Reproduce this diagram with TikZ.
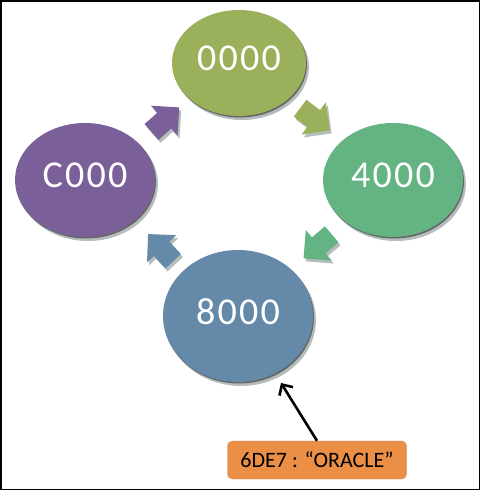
\documentclass[tikz,border=0pt]{standalone}
\usepackage{fontspec}
\setmainfont{Carlito}
\newfontfamily\digitfont[LetterSpace=6]{Carlito}
\usetikzlibrary{shapes.geometric,shadows,arrows.meta}

\definecolor{ringolive}{HTML}{9BB05A}
\definecolor{ringgreen}{HTML}{63B383}
\definecolor{ringpurple}{HTML}{7B5F99}
\definecolor{ringblue}{HTML}{6589A8}
\definecolor{tagorange}{HTML}{EB8F47}
\definecolor{rimgray}{HTML}{B4BCBC}

\tikzset{
  ring/.style={ellipse, inner sep=0pt, text=white, text depth=9pt,
    font=\digitfont\fontsize{38}{44}\selectfont,
    drop shadow={shadow xshift=3pt, shadow yshift=-4pt, fill=rimgray, opacity=1},
    drop shadow={shadow xshift=1pt, shadow yshift=-1.5pt, fill=black!60, opacity=1}},
  tag/.style={fill=tagorange, draw=tagorange!70!gray, rounded corners=5pt,
    minimum width=179pt, minimum height=38pt, inner sep=0pt,
    font=\fontsize{22}{26}\selectfont},
  pointer/.style={line width=2.6pt, -{Straight Barb[length=8pt,width=16pt]}},
  flow arrow/.pic={
    \path[pic actions] (-18,-10.5) -- (-1,-10.5) -- (-1,-20) -- (19,0)
      -- (-1,20) -- (-1,10.5) -- (-18,10.5) -- cycle;
  }
}

\begin{document}
\begin{tikzpicture}[x=1pt,y=-1pt]
  \useasboundingbox (0,0) rectangle (480,490);
  \draw[line width=1.5pt] (0.75,0.75) rectangle (479.25,489.25);

  % the four addresses
  \node[ring, fill=ringolive, minimum width=134pt, minimum height=106pt] (zero) at (239,63) {0000};
  \node[ring, fill=ringgreen, minimum width=140pt, minimum height=114pt] (four) at (393,180) {4000};
  \node[ring, fill=ringblue, minimum width=150pt, minimum height=132pt] (eight) at (238,316) {8000};
  \node[ring, fill=ringpurple, minimum width=140pt, minimum height=114pt] (cee) at (85,180) {C000};

  % block arrows between them
  \foreach \x/\y/\a/\col in {165/120/41.5/ringpurple, 314.5/119/-37/ringolive,
                             318/246/-139.6/ringgreen, 161/248/132.9/ringblue}{
    \pic[fill=rimgray, rotate=\a] at (\x+2,\y+3) {flow arrow};
    \pic[fill=\col, rotate=\a] at (\x,\y) {flow arrow};
  }

  \node[tag] (oracle) at (317,460) {6DE7 : “ORACLE”};
  \coordinate (hit) at (281,383);
  \draw[pointer] (oracle.north) -- (hit);
\end{tikzpicture}
\end{document}
